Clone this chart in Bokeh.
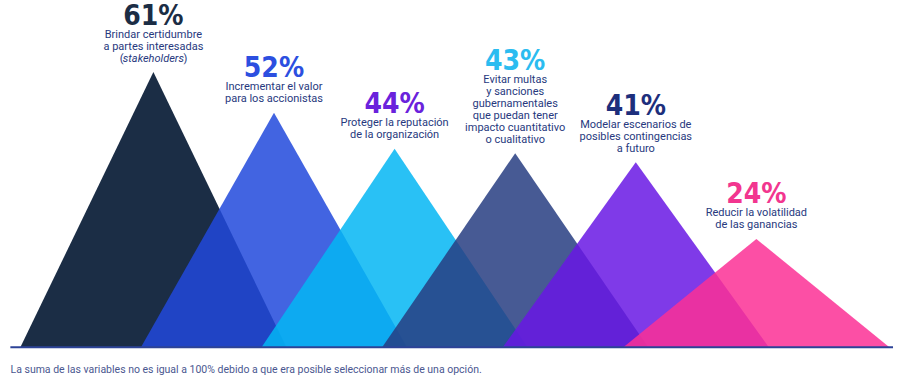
from bokeh.plotting import figure
from bokeh.models import ColumnDataSource, Label, Range1d
from bokeh.core.properties import value
from bokeh.embed import file_html
from bokeh.resources import INLINE

# ---- data ----
values = [61, 52, 44, 43, 41, 24]
pct_labels = ["61%", "52%", "44%", "43%", "41%", "24%"]
descriptions = [
    ["Brindar certidumbre", "a partes interesadas", "(stakeholders)"],
    ["Incrementar el valor", "para los accionistas"],
    ["Proteger la reputación", "de la organización"],
    ["Evitar multas", "y sanciones", "gubernamentales", "que puedan tener",
     "impacto cuantitativo", "o cualitativo"],
    ["Modelar escenarios de", "posibles contingencias", "a futuro"],
    ["Reducir la volatilidad", "de las ganancias"],
]
footnote = ("La suma de las variables no es igual a 100% debido a que era posible "
            "seleccionar más de una opción.")

# ---- styles ----
tri_colors = ["#1b2d45", "#2149dc", "#03b6f3", "#273d81", "#6918e4", "#fc3095"]
tri_alpha = [1.0, 0.85, 0.85, 0.85, 0.85, 0.85]
pct_colors = ["#1b2d45", "#2c4fe0", "#6a22dc", "#2bbcf0", "#1d2f7c", "#f2368f"]
text_color = "#27397e"
half_w = 1.103
pct_font = "'DejaVu Sans Condensed', 'Liberation Sans Narrow', 'Roboto Condensed', Roboto, sans-serif"

W, H = 900, 380
p = figure(width=W, height=H, output_backend="svg", toolbar_location=None,
           x_axis_type=None, y_axis_type=None, min_border=0,
           x_range=Range1d(-1.2678, 6.195), y_range=Range1d(-7.38, 76.87))
p.outline_line_color = None
p.grid.visible = False
p.background_fill_color = "white"
p.border_fill_color = "white"

idx = list(range(len(values)))
xs = [[i - half_w, i, i + half_w] for i in idx]
ys = [[0, v, 0] for v in values]
src = ColumnDataSource(dict(xs=xs, ys=ys, color=tri_colors, alpha=tri_alpha))
p.patches("xs", "ys", source=src, fill_color="color", fill_alpha="alpha",
          line_color=None)

# baseline just beyond the outermost triangles
p.segment(x0=[idx[0] - half_w - 0.083], y0=[0], x1=[idx[-1] + half_w + 0.03],
          y1=[0], line_color="#2d4397", line_width=2)

# description lines
gap, lh, pgap = 14, 12, 19
lx, ly, lt, loff = [], [], [], []
px_, py_, poff = [], [], []
ital_x, ital_y, ital_off, ital_t = [], [], [], []
for i, (v, lines) in enumerate(zip(values, descriptions)):
    n = len(lines)
    for k, line in enumerate(lines):
        off = -(gap + (n - 1 - k) * lh)
        if line.startswith("(") and line.endswith(")"):
            ital_x.append(i); ital_y.append(v); ital_off.append(off)
            ital_t.append(line[1:-1])
            continue
        lx.append(i); ly.append(v); lt.append(line); loff.append(off)
    px_.append(i); py_.append(v); poff.append(-(gap + (n - 1) * lh + pgap))

common = dict(text_baseline="middle", text_font=value("Roboto"),
              text_font_size="11px", text_color=text_color)

lsrc = ColumnDataSource(dict(x=lx, y=ly, text=lt, off=loff))
p.text("x", "y", text="text", y_offset="off", source=lsrc,
       text_align="center", **common)

if ital_x:
    isrc = ColumnDataSource(dict(x=ital_x, y=ital_y, off=ital_off, text=ital_t))
    p.text("x", "y", text="text", y_offset="off", source=isrc,
           text_align="center", text_font_style="italic", **common)
    osrc = ColumnDataSource(dict(x=ital_x, y=ital_y, off=ital_off,
                                 text=["("] * len(ital_x)))
    p.text("x", "y", text="text", y_offset="off", x_offset=-30, source=osrc,
           text_align="right", **common)
    csrc = ColumnDataSource(dict(x=ital_x, y=ital_y, off=ital_off,
                                 text=[")"] * len(ital_x)))
    p.text("x", "y", text="text", y_offset="off", x_offset=30, source=csrc,
           text_align="left", **common)

psrc = ColumnDataSource(dict(x=px_, y=py_, text=pct_labels, off=poff,
                             color=pct_colors))
p.text("x", "y", text="text", y_offset="off", source=psrc,
       text_align="center", text_baseline="middle",
       text_font=value(pct_font), text_font_style="bold",
       text_font_size="28px", text_color="color")

p.add_layout(Label(x=-1.185, y=-5.0, text=footnote, text_align="left",
                   text_baseline="middle", text_font="Roboto",
                   text_font_size="10.5px", text_color="#4a5790"))

open("out.html", "w").write(file_html(p, INLINE))
